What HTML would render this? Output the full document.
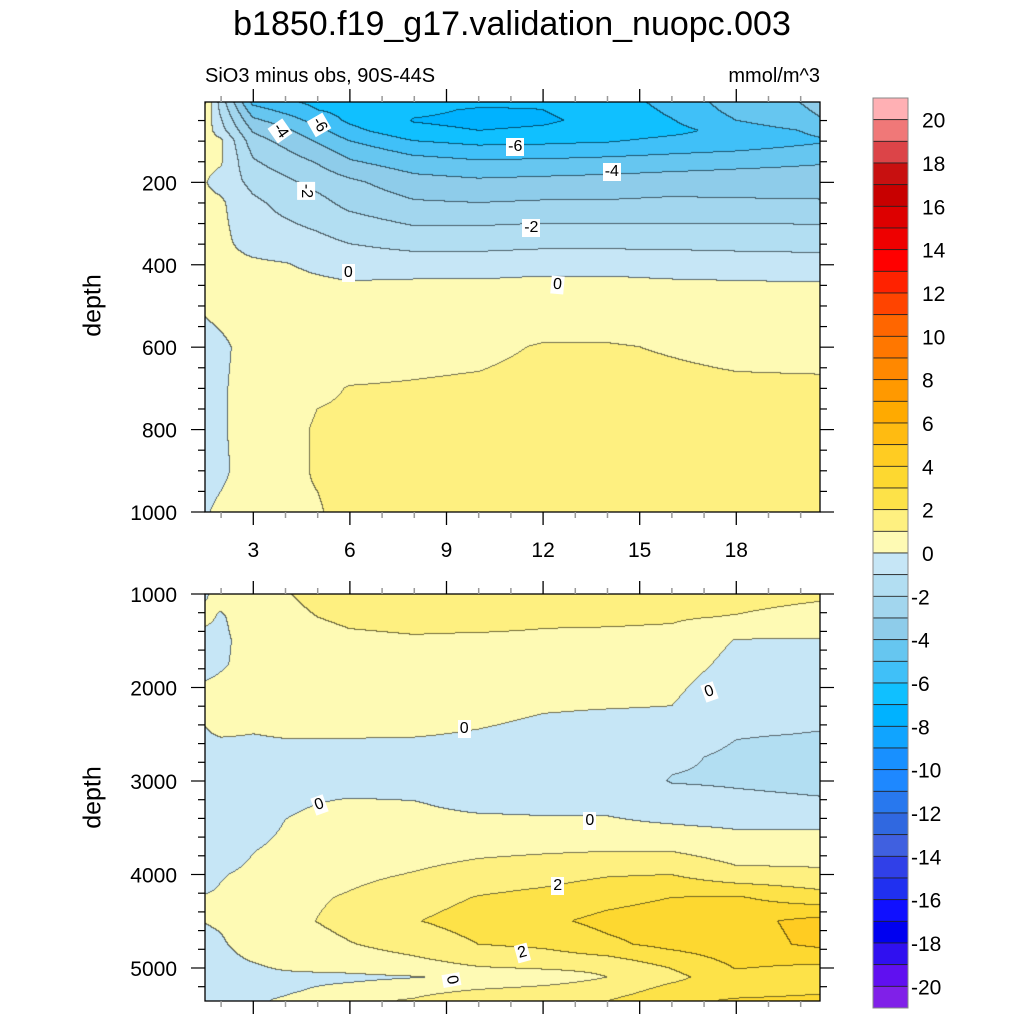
<!DOCTYPE html>
<html><head><meta charset="utf-8">
<style>
body{margin:0;background:#fff;width:1024px;height:1024px;position:relative;overflow:hidden;font-family:"Liberation Sans",sans-serif;}
.abs{position:absolute;}
canvas{position:absolute;}
.clab{position:absolute;background:#fff;font-size:16px;line-height:16px;padding:1px 2px;transform-origin:center;color:#000;}
</style></head>
<body>
<div class="abs" style="left:0;width:1024px;top:5px;text-align:center;font-size:34px;">b1850.f19_g17.validation_nuopc.003</div>
<div class="abs" style="left:205px;top:65px;font-size:20px;">SiO3 minus obs, 90S-44S</div>
<div class="abs" style="left:680px;width:140px;top:65px;font-size:20px;text-align:right;">mmol/m^3</div>
<div class="abs" style="left:43px;top:291px;width:100px;text-align:center;font-size:25px;transform:rotate(-90deg);">depth</div>
<div class="abs" style="left:43px;top:783px;width:100px;text-align:center;font-size:25px;transform:rotate(-90deg);">depth</div>
<canvas id="top" style="left:205px;top:102px" width="615" height="410"></canvas>
<canvas id="bot" style="left:205px;top:594px" width="615" height="407"></canvas>
<svg id="ax" class="abs" style="left:0;top:0" width="1024" height="1024"></svg>
<div id="labels"></div>
<script>
const xCols=[1.5,2,3,4,5,6,8,10,12,14,16,18,20.6];
const topDepths=[0,25,50,75,100,125,150,200,250,300,350,400,450,500,600,700,800,900,1000];
const topValues=[
[1.2,0.9,0.7,0.6,0.5,0.35,0.2,0.05,0.2,0.3,0.35,0.4,0.35,0.1,-0.3,-0.2,-0.3,-0.4,-0.1],
[-1.5,-1.2,-0.9,-0.6,0.2,0.15,0.1,-0.3,0.15,0.2,0.2,0.25,0.3,0.25,-0.15,-0.1,-0.1,-0.2,0.2],
[-5.5,-4.6,-3.8,-3.1,-2.6,-2.2,-1.9,-1.3,-0.8,-0.6,-0.3,0.15,0.3,0.4,0.3,0.35,0.4,0.5,0.5],
[-6.0,-5.3,-4.5,-3.8,-3.3,-2.9,-2.5,-1.8,-1.3,-0.9,-0.5,0.05,0.3,0.4,0.5,0.6,0.7,0.85,0.95],
[-6.3,-6.0,-5.4,-4.7,-4.1,-3.6,-3.1,-2.3,-1.7,-1.2,-0.7,-0.2,0.2,0.4,0.6,0.9,1.1,1.05,0.95],
[-6.4,-6.3,-6.2,-5.7,-5.0,-4.4,-3.9,-2.8,-2.3,-1.6,-1.0,-0.4,0.1,0.4,0.7,1.02,1.1,1.15,1.2],
[-6.4,-6.8,-7.05,-6.8,-6.0,-5.3,-4.6,-3.6,-2.9,-2.1,-1.3,-0.5,0.2,0.5,0.8,1.05,1.2,1.3,1.3],
[-6.6,-7.1,-7.2,-7.0,-6.3,-5.6,-4.9,-3.8,-3.0,-2.1,-1.3,-0.5,0.2,0.5,0.85,1.1,1.3,1.35,1.4],
[-6.9,-7.0,-7.1,-6.9,-6.2,-5.6,-4.8,-3.7,-2.9,-2.0,-1.2,-0.4,0.3,0.55,1.05,1.2,1.3,1.35,1.4],
[-6.5,-6.7,-6.8,-6.7,-6.1,-5.4,-4.7,-3.6,-2.9,-2.0,-1.2,-0.4,0.3,0.55,1.05,1.2,1.5,1.3,1.35],
[-5.6,-5.8,-6.05,-6.3,-5.7,-5.2,-4.5,-3.5,-2.8,-2.0,-1.2,-0.5,0.2,0.5,0.95,1.15,1.3,1.3,1.35],
[-4.5,-4.7,-5.0,-5.6,-5.5,-5.0,-4.3,-3.5,-2.85,-2.0,-1.25,-0.55,0.15,0.45,0.85,1.1,1.25,1.3,1.3],
[-3.8,-3.9,-4.05,-4.8,-5.1,-4.7,-4.1,-3.5,-2.9,-2.05,-1.3,-0.6,0.1,0.4,0.8,1.1,1.2,1.25,1.3]];
const botDepths=[1000,1250,1500,1750,2000,2250,2500,2750,3000,3250,3500,3750,4000,4250,4500,4750,5000,5100,5250,5353];
const botValues=[
[-0.1,0.2,-0.3,-0.3,0.1,0.1,-0.05,-0.3,-0.5,-0.6,-0.6,-0.5,-0.3,0.05,0.02,-0.2,-0.4,-0.4,-0.4,-0.4],
[0.3,-0.1,-0.2,-0.1,0.2,0.2,0.05,-0.3,-0.5,-0.6,-0.6,-0.4,-0.05,0.1,0.1,-0.1,-0.3,-0.4,-0.4,-0.4],
[0.6,0.5,0.4,0.3,0.3,0.25,0.0,-0.2,-0.35,-0.4,-0.3,-0.02,0.15,0.4,0.5,0.35,-0.1,-0.3,-0.2,-0.1],
[0.95,0.8,0.7,0.6,0.45,0.3,0.05,-0.2,-0.3,-0.1,0.05,0.2,0.35,0.5,0.6,0.5,0.1,-0.2,-0.1,0.1],
[1.2,1.0,0.8,0.65,0.45,0.3,0.05,-0.2,-0.25,0.0,0.2,0.4,0.6,0.9,1.02,0.7,0.2,-0.2,0.1,0.5],
[1.3,1.1,0.9,0.7,0.5,0.3,0.05,-0.2,-0.3,0.1,0.3,0.5,0.75,1.1,1.3,0.95,0.3,-0.2,0.3,0.8],
[1.3,1.15,0.95,0.7,0.5,0.3,0.05,-0.3,-0.3,0.05,0.3,0.6,1.05,1.6,1.95,1.4,0.6,-0.05,0.7,1.1],
[1.4,1.2,0.9,0.7,0.45,0.2,-0.05,-0.3,-0.4,-0.2,0.3,0.8,1.4,2.05,2.4,2.0,0.95,0.2,1.1,1.8],
[1.3,1.1,0.9,0.6,0.3,0.03,-0.2,-0.35,-0.4,-0.2,0.2,0.9,1.6,2.3,2.8,2.2,1.1,0.5,1.3,1.9],
[1.4,1.15,0.8,0.55,0.3,-0.02,-0.25,-0.4,-0.45,-0.2,0.2,0.97,1.9,2.7,3.25,2.8,1.2,1.0,1.5,2.0],
[1.5,1.1,0.75,0.5,0.2,-0.05,-0.5,-0.85,-1.05,-0.6,0.1,0.97,1.98,3.0,3.5,3.3,2.05,1.7,2.4,2.8],
[1.4,0.95,-0.05,-0.3,-0.6,-0.8,-0.95,-1.15,-1.1,-0.8,-0.05,0.5,1.3,3.1,3.7,3.6,3.05,2.7,2.7,3.1],
[1.2,0.6,-0.05,-0.4,-0.6,-0.85,-1.02,-1.3,-1.2,-0.9,-0.05,0.5,1.2,2.4,4.3,4.2,2.8,2.6,2.9,3.2]];
const barColors=["#FFB0B4","#F07878","#DC4448","#C81010","#C80000","#DD0000","#EE0000","#FF0000","#FF2200","#FF4400","#FF6600","#FF7700","#FF8800","#FF9900","#FFAA00","#FFBB11","#FFCC22","#FDD830","#FDE248","#FEF080","#FEFAB4",
"#C6E6F6","#B2DEF2","#A2D6EE","#8ECCEA","#66C6F0","#40C0F8","#10C0FF","#00B2FF","#10A4FF","#1890FF","#1E88FF","#2878EE","#3068E0","#4060E0","#3040E8","#2030F0","#1010FF","#0000F0","#3010F0","#6010F0","#8020E8"];
const barTicks=[20,18,16,14,12,10,8,6,4,2,0,-2,-4,-6,-8,-10,-12,-14,-16,-18,-20];
const xTicks=[3,6,9,12,15,18];
const topYTicks=[200,400,600,800,1000];
const botYTicks=[1000,2000,3000,4000,5000];
const topLabels=[["-4",3.8,75,55],["-6",5.0,60,60],["-6",11.1,115,0],["-4",14.1,175,0],["-2",4.6,220,90],["-2",11.6,310,0],["0",6,420,0],["0",12.5,450,5]];
const botLabels=[["0",9.6,2440,0],["0",17.2,2050,-20],["0",5.1,3260,-20],["0",13.5,3430,0],["2",12.5,4120,0],["2",11.4,4840,-15],["0",9.2,5130,80]];

const L=205,R=820,TT=102,TB=512,BT=594,BB=1001;
const sx=x=>L+(x-1.5)/(20.6-1.5)*(R-L);
const syT=d=>TT+(d-5)/(1000-5)*(TB-TT);
const syB=d=>BT+(d-1000)/(5353-1000)*(BB-BT);
function hex(c){return [parseInt(c.slice(1,3),16),parseInt(c.slice(3,5),16),parseInt(c.slice(5,7),16)];}
const rgb=barColors.map(hex);
function band(v){let i=20-Math.floor(v);return Math.max(0,Math.min(41,i));}
function locate(arr,v){let i=0;while(i<arr.length-2&&v>arr[i+1])i++;let t=(v-arr[i])/(arr[i+1]-arr[i]);t=Math.max(0,Math.min(1,t));return [i,t];}
function render(id,depths,vals,d0,d1){
  const c=document.getElementById(id),ctx=c.getContext('2d'),W=c.width,H=c.height;
  const img=ctx.createImageData(W,H);const B=new Int16Array(W*H);
  for(let py=0;py<H;py++){const d=d0+(py+0.5)/H*(d1-d0);const [j,u]=locate(depths,d);
    for(let px=0;px<W;px++){const x=1.5+(px+0.5)/W*(20.6-1.5);const [i,t]=locate(xCols,x);
      const v=(1-t)*((1-u)*vals[i][j]+u*vals[i][j+1])+t*((1-u)*vals[i+1][j]+u*vals[i+1][j+1]);
      B[py*W+px]=band(v);}}
  for(let py=0;py<H;py++)for(let px=0;px<W;px++){const k=py*W+px;let b=B[k];let col=rgb[b];
    const edge=(px<W-1&&B[k+1]!==b)||(py<H-1&&B[k+W]!==b);
    const o=k*4;if(edge){img.data[o]=col[0]*0.45;img.data[o+1]=col[1]*0.45;img.data[o+2]=col[2]*0.45;}else{img.data[o]=col[0];img.data[o+1]=col[1];img.data[o+2]=col[2];}img.data[o+3]=255;}
  ctx.putImageData(img,0,0);
}
render('top',topDepths,topValues,5,1000);
render('bot',botDepths,botValues,1000,5353);

const NS="http://www.w3.org/2000/svg";const svg=document.getElementById('ax');
function ln(x1,y1,x2,y2,col,w,name){const e=document.createElementNS(NS,'line');e.setAttribute('x1',x1);e.setAttribute('y1',y1);e.setAttribute('x2',x2);e.setAttribute('y2',y2);e.setAttribute('stroke',col);e.setAttribute('stroke-width',w);


svg.appendChild(e);}
function tx(x,y,s,anchor,size,name){const e=document.createElementNS(NS,'text');e.setAttribute('x',x);e.setAttribute('y',y);e.setAttribute('text-anchor',anchor);e.setAttribute('font-size',size);e.setAttribute('font-family','Liberation Sans, sans-serif');e.textContent=s;


svg.appendChild(e);}
function frame(top,bot,name){const r=document.createElementNS(NS,'rect');r.setAttribute('x',L);r.setAttribute('y',top);r.setAttribute('width',R-L);r.setAttribute('height',bot-top);r.setAttribute('fill','none');r.setAttribute('stroke','#000');r.setAttribute('stroke-width',1.3);


svg.appendChild(r);}
frame(TT,TB,'top-plot-frame');frame(BT,BB,'bottom-plot-frame');
for(let x=2;x<=20;x++){const px=sx(x);const maj=xTicks.includes(x);const len=maj?13:6;const col=maj?'#000':'#999';
  ln(px,TT,px,TT-len,col,maj?1.3:1.5,'x-tick');ln(px,TB,px,TB+len,col,maj?1.3:1.5,'x-tick');
  ln(px,BT,px,BT-len,col,maj?1.3:1.5,'x-tick');ln(px,BB,px,BB+len,col,maj?1.3:1.5,'x-tick');}
xTicks.forEach(x=>tx(sx(x),557,String(x),'middle',21,'x-tick-label'));
for(let d=50;d<=1000;d+=50){const py=syT(d);const maj=topYTicks.includes(d);const len=maj?14:7;
  ln(L,py,L-len,py,'#000',1.2,'y-tick-top');ln(R,py,R+len,py,'#000',1.2,'y-tick-top');}
topYTicks.forEach(d=>tx(177,syT(d)+8,String(d),'end',21,'y-tick-label-top'));
for(let d=1000;d<=5353;d+=200){const py=syB(d);const maj=botYTicks.includes(d);const len=maj?14:7;
  ln(L,py,L-len,py,'#000',1.2,'y-tick-bottom');ln(R,py,R+len,py,'#000',1.2,'y-tick-bottom');}
botYTicks.forEach(d=>tx(177,syB(d)+8,String(d),'end',21,'y-tick-label-bottom'));
const cbT=98,cbB=1008,cbL=873,cbR=908,bh=(cbB-cbT)/barColors.length;
barColors.forEach((c,i)=>{const r=document.createElementNS(NS,'rect');r.setAttribute('x',cbL);r.setAttribute('y',cbT+i*bh);r.setAttribute('width',cbR-cbL);r.setAttribute('height',bh);r.setAttribute('fill',c);r.setAttribute('stroke','#222');r.setAttribute('stroke-width',0.8);


svg.appendChild(r);});
barTicks.forEach((v,k)=>{const y=cbT+(20-v+1)*bh;tx(v<0?911:922,y+8,String(v),'start',21,'colorbar-label');});
const fr=document.createElementNS(NS,'rect');fr.setAttribute('x',cbL);fr.setAttribute('y',cbT);fr.setAttribute('width',cbR-cbL);fr.setAttribute('height',cbB-cbT);fr.setAttribute('fill','none');fr.setAttribute('stroke','#888');fr.setAttribute('stroke-width',1);


svg.appendChild(fr);
const lab=document.getElementById('labels');
function addLab(a,sy){const e=document.createElement('div');e.className='clab';e.textContent=a[0];


e.style.left=(sx(a[1])-8)+'px';e.style.top=(sy(a[2])-9)+'px';e.style.transform='rotate('+a[3]+'deg)';lab.appendChild(e);}
topLabels.forEach(a=>addLab(a,syT));botLabels.forEach(a=>addLab(a,syB));
</script>
</body></html>
